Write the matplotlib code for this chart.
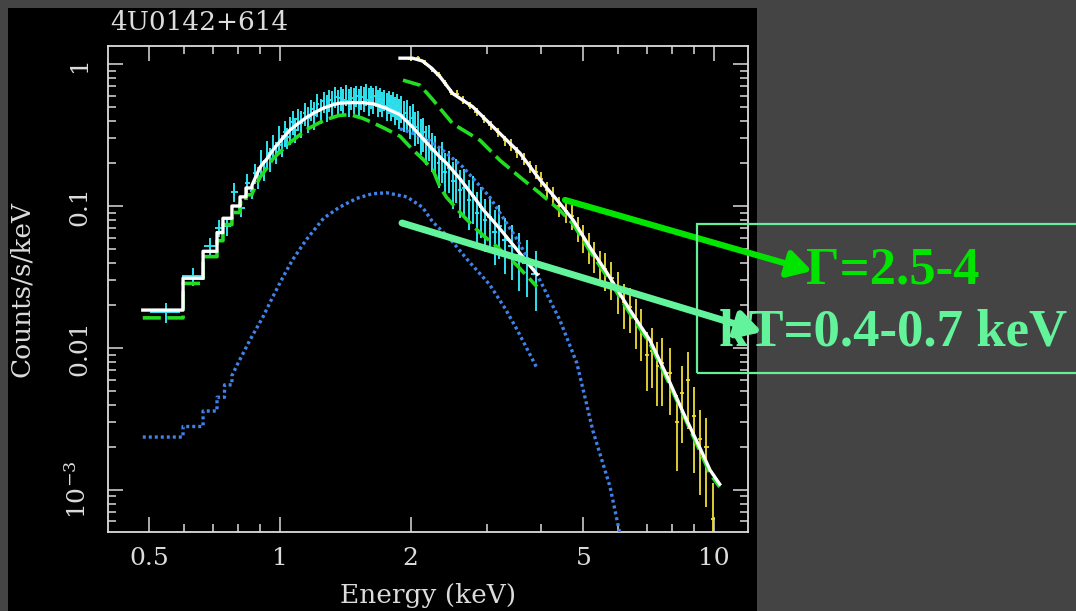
import numpy as np
import matplotlib
matplotlib.use("Agg")
import matplotlib.pyplot as plt
from matplotlib.patches import Rectangle
from matplotlib.ticker import FixedLocator, FixedFormatter, LogLocator, NullFormatter

# ---- soft-band spectrum (cyan data) ----
cyan_energy = [
    0.545, 0.632, 0.69, 0.724, 0.755, 0.785, 0.815, 0.84, 0.86, 0.875,
    0.89, 0.905, 0.92, 0.935, 0.95, 0.965, 0.98, 0.995, 1.01, 1.025,
    1.04, 1.055, 1.07, 1.085, 1.10, 1.12, 1.14, 1.16, 1.18, 1.20,
    1.22, 1.24, 1.26, 1.28, 1.30, 1.32, 1.34, 1.36, 1.38, 1.40,
    1.42, 1.44, 1.46, 1.48, 1.50, 1.52, 1.54, 1.56, 1.58, 1.60,
    1.62, 1.64, 1.66, 1.68, 1.70, 1.72, 1.74, 1.76, 1.78, 1.80,
    1.82, 1.84, 1.86, 1.88, 1.90, 1.93, 1.96, 1.99, 2.02, 2.05,
    2.08, 2.11, 2.14, 2.17, 2.20, 2.24, 2.28, 2.32, 2.36, 2.40,
    2.45, 2.50, 2.55, 2.60, 2.66, 2.72, 2.78, 2.84, 2.90, 2.97,
    3.04, 3.12, 3.20, 3.30, 3.42, 3.55, 3.70, 3.88,
]
cyan_flux = [
    0.0178, 0.032, 0.052, 0.070, 0.072, 0.126, 0.097, 0.145, 0.128, 0.170,
    0.160, 0.205, 0.180, 0.235, 0.215, 0.265, 0.240, 0.300, 0.270, 0.330,
    0.305, 0.345, 0.390, 0.345, 0.410, 0.385, 0.450, 0.415, 0.480, 0.440,
    0.520, 0.470, 0.545, 0.500, 0.560, 0.530, 0.590, 0.540, 0.575, 0.555,
    0.610, 0.545, 0.580, 0.560, 0.600, 0.550, 0.590, 0.570, 0.615, 0.555,
    0.590, 0.560, 0.600, 0.540, 0.570, 0.530, 0.560, 0.510, 0.545, 0.500,
    0.530, 0.480, 0.510, 0.460, 0.490, 0.440, 0.450, 0.400, 0.420, 0.360,
    0.370, 0.320, 0.330, 0.280, 0.290, 0.250, 0.240, 0.200, 0.215, 0.175,
    0.185, 0.150, 0.160, 0.130, 0.135, 0.110, 0.118, 0.090, 0.098, 0.080,
    0.084, 0.066, 0.072, 0.058, 0.052, 0.045, 0.040, 0.033,
]
cyan_relerr = [
    0.16, 0.15, 0.14, 0.13, 0.14, 0.15, 0.14, 0.15, 0.13, 0.16,
    0.18, 0.21, 0.17, 0.22, 0.19, 0.20, 0.17, 0.22, 0.18, 0.21,
    0.17, 0.22, 0.19, 0.20, 0.17, 0.22, 0.18, 0.21, 0.17, 0.22,
    0.19, 0.20, 0.17, 0.22, 0.18, 0.21, 0.17, 0.22, 0.19, 0.20,
    0.17, 0.22, 0.18, 0.21, 0.17, 0.22, 0.19, 0.20, 0.17, 0.22,
    0.18, 0.21, 0.17, 0.22, 0.19, 0.20, 0.17, 0.22, 0.18, 0.21,
    0.20, 0.23, 0.21, 0.24, 0.22, 0.25, 0.24, 0.26, 0.25, 0.27,
    0.26, 0.28, 0.27, 0.30, 0.29, 0.31, 0.30, 0.33, 0.32, 0.34,
    0.33, 0.36, 0.34, 0.37, 0.36, 0.38, 0.37, 0.40, 0.39, 0.41,
    0.40, 0.42, 0.41, 0.43, 0.42, 0.44, 0.43, 0.45,
]

# ---- hard-band spectrum (yellow data) ----
yellow_energy = [
    2.00, 2.08, 2.16, 2.24, 2.32, 2.40, 2.48, 2.56, 2.64, 2.74,
    2.84, 2.95, 3.06, 3.18, 3.30, 3.40, 3.52, 3.64, 3.76, 3.88,
    4.00, 4.12, 4.26, 4.40, 4.55, 4.70, 4.85, 5.00, 5.15, 5.30,
    5.45, 5.60, 5.80, 6.00, 6.20, 6.40, 6.60, 6.80, 7.00, 7.20,
    7.40, 7.60, 7.90, 8.20, 8.45, 8.70, 9.00, 9.30, 9.60, 9.95,
]
yellow_flux = [
    1.08, 1.10, 1.02, 0.92, 0.84, 0.74, 0.64, 0.62, 0.56, 0.51,
    0.46, 0.41, 0.37, 0.33, 0.29, 0.27, 0.24, 0.215, 0.19, 0.175,
    0.155, 0.13, 0.118, 0.10, 0.092, 0.085, 0.070, 0.060, 0.052, 0.045,
    0.038, 0.036, 0.031, 0.026, 0.021, 0.0195, 0.016, 0.0135, 0.0090, 0.0095,
    0.0075, 0.0078, 0.0067, 0.0030, 0.0048, 0.0060, 0.0033, 0.0023, 0.0020, 0.00062,
]
yellow_relerr = [
    0.03, 0.03, 0.04, 0.04, 0.04, 0.05, 0.05, 0.06, 0.06, 0.06,
    0.06, 0.07, 0.07, 0.07, 0.08, 0.09, 0.09, 0.10, 0.10, 0.11,
    0.12, 0.14, 0.15, 0.16, 0.18, 0.20, 0.20, 0.22, 0.25, 0.25,
    0.27, 0.30, 0.30, 0.33, 0.35, 0.35, 0.38, 0.40, 0.45, 0.45,
    0.48, 0.50, 0.50, 0.55, 0.55, 0.55, 0.60, 0.60, 0.62, 0.80,
]

# ---- soft-band model: coarse bins below 0.86 keV, then smooth ----
soft_bin_edges = [0.483, 0.598, 0.665, 0.716, 0.739, 0.775, 0.809, 0.835, 0.862]
soft_total_bins = [0.0185, 0.031, 0.048, 0.065, 0.082, 0.100, 0.116, 0.134]
soft_pl_bins = [0.0163, 0.0285, 0.044, 0.057, 0.074, 0.090, 0.105, 0.120]
soft_energy = [0.862, 0.90, 0.933, 0.963, 1.0, 1.054, 1.1, 1.15, 1.2, 1.26,
               1.32, 1.37, 1.45, 1.55, 1.64, 1.75, 1.89, 2.02, 2.13, 2.25,
               2.34, 2.42, 2.6, 2.8, 2.94, 3.2, 3.52, 3.91]
soft_total = [0.14, 0.188, 0.215, 0.248, 0.285, 0.343, 0.38, 0.42, 0.455, 0.49,
              0.515, 0.53, 0.535, 0.535, 0.525, 0.49, 0.44, 0.36, 0.30, 0.25,
              0.22, 0.20, 0.155, 0.115, 0.094, 0.07, 0.049, 0.033]
soft_pl = [0.122, 0.16, 0.185, 0.215, 0.24, 0.28, 0.31, 0.345, 0.37, 0.40,
           0.42, 0.435, 0.44, 0.415, 0.385, 0.35, 0.31, 0.25, 0.215, 0.18,
           0.135, 0.115, 0.09, 0.071, 0.062, 0.05, 0.038, 0.027]
soft_bb_edges = [0.483, 0.598, 0.665, 0.716, 0.745, 0.775]
soft_bb_bins = [0.00236, 0.0028, 0.0036, 0.0045, 0.0055]
soft_bb_energy = [0.775, 0.80, 0.853, 0.914, 0.963, 1.016, 1.07, 1.15, 1.26, 1.37,
                  1.50, 1.63, 1.76, 1.96, 2.13, 2.25, 2.45, 2.70, 3.04, 3.30,
                  3.52, 3.91]
soft_bb = [0.0064, 0.0078, 0.0114, 0.0166, 0.023, 0.0316, 0.042, 0.058, 0.082, 0.098,
           0.113, 0.122, 0.124, 0.116, 0.098, 0.077, 0.06, 0.042, 0.028, 0.019,
           0.0134, 0.0072]

# ---- hard-band model ----
hard_energy = [1.89, 2.02, 2.13, 2.24, 2.34, 2.5, 2.78, 3.16, 3.57, 3.97,
               4.35, 4.73, 5.18, 5.66, 6.40, 7.11, 7.8, 8.49, 9.26, 9.79, 10.3]
hard_total = [1.1, 1.1, 1.05, 0.93, 0.81, 0.62, 0.50, 0.34, 0.236, 0.153,
              0.11, 0.08, 0.051, 0.034, 0.0185, 0.0114, 0.0063, 0.0035, 0.002, 0.00138, 0.0011]
hard_pl_energy = [1.92, 2.1, 2.25, 2.5, 2.89, 3.21, 3.57, 3.97, 4.4, 4.73,
                  5.18, 5.66, 6.4, 7.11, 7.8, 8.49, 9.26, 9.79, 10.3]
hard_pl = [0.77, 0.71, 0.56, 0.38, 0.29, 0.21, 0.16, 0.123, 0.094, 0.075,
           0.048, 0.032, 0.0175, 0.0108, 0.006, 0.0034, 0.0019, 0.0013, 0.00105]
hard_bb_energy = [1.89, 2.0, 2.21, 2.4, 2.64, 3.04, 3.52, 3.97, 4.41, 4.83,
                  5.26, 5.76, 6.06]
hard_bb = [0.35, 0.33, 0.29, 0.24, 0.188, 0.116, 0.058, 0.030, 0.0158, 0.0078,
           0.0026, 0.00105, 0.0005]

CYAN = "#2fe3f0"
YELLOW = "#eedd33"
GREEN = "#22dd22"
BLUE = "#3f82ea"
WHITE = "#ffffff"
AXIS = "#dcdcdc"

W, H = 1076, 611

plt.rcParams["font.family"] = "DejaVu Serif"
plt.rcParams["mathtext.fontset"] = "dejavuserif"


def stepped(edges, vals, energy=(), flux=()):
    """Coarse histogram bins followed by a smooth section."""
    x = np.repeat(edges, 2)[1:-1]
    y = np.repeat(vals, 2)
    return np.concatenate([x, energy]), np.concatenate([y, flux])


fig = plt.figure(figsize=(W / 100, H / 100), dpi=100, facecolor="#444444")
fig.add_artist(Rectangle((8 / W, 0), 749 / W, 603 / H, transform=fig.transFigure,
                         facecolor="black", edgecolor="none", zorder=-1))

ax = fig.add_axes([108 / W, 1 - 532 / H, 640 / W, 486 / H])
ax.set_facecolor("black")
ax.set_xscale("log")
ax.set_yscale("log")

# data
ce = np.array(cyan_energy)
cf = np.array(cyan_flux)
ax.errorbar(ce, cf, yerr=cf * np.array(cyan_relerr), xerr=np.gradient(ce) / 2,
            fmt="none", ecolor=CYAN, elinewidth=1.4, zorder=2)
ye = np.array(yellow_energy)
yf = np.array(yellow_flux)
ax.errorbar(ye, yf, yerr=yf * np.array(yellow_relerr), xerr=np.gradient(ye) / 3,
            fmt="none", ecolor=YELLOW, elinewidth=1.3, zorder=2)

# model components
x, y = stepped(soft_bb_edges, soft_bb_bins, soft_bb_energy, soft_bb)
ax.plot(x, y, color=BLUE, lw=2.4, ls=(0, (0.9, 0.9)), zorder=3)
ax.plot(hard_bb_energy, hard_bb, color=BLUE, lw=2.4, ls=(0, (0.9, 0.9)), zorder=3)

x, y = stepped(soft_bin_edges, soft_pl_bins, soft_energy, soft_pl)
ax.plot(x, y, color=GREEN, lw=2.6, dashes=(5, 1.8), zorder=3)
ax.plot(hard_pl_energy, hard_pl, color=GREEN, lw=2.6, dashes=(5, 1.8), zorder=3)

# total models
x, y = stepped(soft_bin_edges, soft_total_bins, soft_energy, soft_total)
ax.plot(x, y, color=WHITE, lw=2.4, zorder=4)
ax.plot(hard_energy, hard_total, color=WHITE, lw=2.4, zorder=4)

ax.set_xlim(0.4016, 11.97)
ax.set_ylim(5.06e-4, 1.34)

ax.xaxis.set_major_locator(FixedLocator([0.5, 1, 2, 5, 10]))
ax.xaxis.set_major_formatter(FixedFormatter(["0.5", "1", "2", "5", "10"]))
ax.xaxis.set_minor_locator(LogLocator(base=10, subs=np.arange(1, 10)))
ax.xaxis.set_minor_formatter(NullFormatter())
ax.yaxis.set_major_locator(FixedLocator([1e-3, 1e-2, 0.1, 1]))
ax.yaxis.set_major_formatter(FixedFormatter([r"$10^{-3}$", "0.01", "0.1", "1"]))
ax.yaxis.set_minor_locator(LogLocator(base=10, subs=np.arange(1, 10)))
ax.yaxis.set_minor_formatter(NullFormatter())

for side in ax.spines.values():
    side.set_color(AXIS)
    side.set_linewidth(1.3)
ax.tick_params(which="both", direction="in", top=True, right=True,
               color=AXIS, width=1.1, labelcolor=AXIS)
ax.tick_params(which="major", length=10.5, labelsize=18)
ax.tick_params(which="minor", length=5.5)
ax.tick_params(axis="x", pad=11)
ax.tick_params(axis="y", pad=12, labelrotation=90)
for lab in ax.get_yticklabels():
    lab.set_va("center")

fig.text(110 / W, 1 - 22 / H, "4U0142+614", ha="left", va="center",
         fontsize=19, color=AXIS)
fig.text(428 / W, 1 - 595 / H, "Energy (keV)", ha="center", va="center",
         fontsize=19, color=AXIS)
fig.text(22 / W, 1 - 289 / H, "Counts/s/keV", ha="center", va="center",
         rotation=90, fontsize=19, color=AXIS)

# annotation box with the fitted parameter ranges
fig.add_artist(Rectangle((697 / W, 1 - 373 / H), 390 / W, 149 / H, transform=fig.transFigure,
                         fill=False, edgecolor="#66ee99", lw=1.6, zorder=6))
fig.text(893 / W, 1 - 270 / H, "\u0393=2.5-4", ha="center", va="center",
         fontsize=38, fontweight="bold", family="Liberation Serif",
         color="#00e400", zorder=7)
fig.text(893 / W, 1 - 333 / H, "kT=0.4-0.7 keV", ha="center", va="center",
         fontsize=38, fontweight="bold", family="Liberation Serif",
         color="#63f39b", zorder=7)

ax.annotate("", xy=(812, H - 271), xycoords="figure pixels",
            xytext=(565, H - 200), textcoords="figure pixels",
            arrowprops=dict(arrowstyle="-|>,head_length=0.7,head_width=0.4",
                            color="#00e400", lw=4.5, mutation_scale=20,
                            shrinkA=0, shrinkB=0),
            annotation_clip=False, zorder=8)
ax.annotate("", xy=(762, H - 332), xycoords="figure pixels",
            xytext=(402, H - 223), textcoords="figure pixels",
            arrowprops=dict(arrowstyle="-|>,head_length=0.7,head_width=0.4",
                            color="#63f39b", lw=5, mutation_scale=20,
                            shrinkA=0, shrinkB=0),
            annotation_clip=False, zorder=8)

fig.savefig("out.png", dpi=100, facecolor=fig.get_facecolor())
